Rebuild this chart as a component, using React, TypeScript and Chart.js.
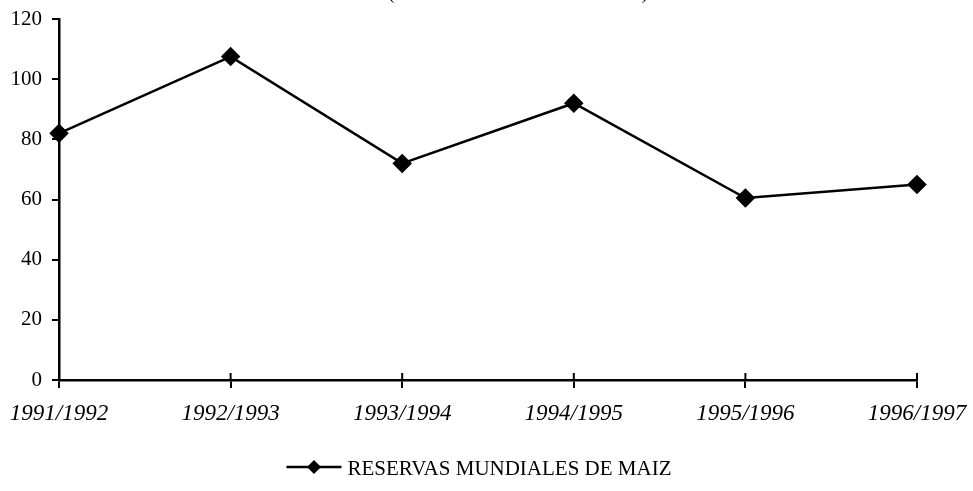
import React, { useEffect, useRef } from "react";
import { Chart, registerables } from "chart.js";

Chart.register(...registerables);

const categories = ["1991/1992", "1992/1993", "1993/1994", "1994/1995", "1995/1996", "1996/1997"];
const reservas = [82, 107.5, 72, 92, 60.5, 65];
const yMin = 0;
const yMax = 120;
const yStep = 20;
const seriesLabel = "RESERVAS MUNDIALES DE MAIZ";
const titleText = "(MILLONES DE TONELADAS)";

const SERIF = "'Liberation Serif', 'Times New Roman', serif";

export default function App() {
  const ref = useRef<HTMLCanvasElement>(null);

  useEffect(() => {
    if (!ref.current) return;

    const extras = {
      id: "extras",
      afterDraw(chart: any) {
        const ctx = chart.ctx as CanvasRenderingContext2D;
        const xs = chart.scales.x;
        const area = chart.chartArea;
        ctx.save();
        // upward part of x tick marks (they cross the axis)
        ctx.strokeStyle = "#000";
        ctx.lineWidth = 2;
        xs.ticks.forEach((_: any, i: number) => {
          const px = xs.getPixelForTick(i);
          ctx.beginPath();
          ctx.moveTo(px, area.bottom);
          ctx.lineTo(px, area.bottom - 7);
          ctx.stroke();
        });

        // title, mostly cut off at the top
        ctx.font = `20px ${SERIF}`;
        const w20 = ctx.measureText(titleText).width;
        const ts = (20 * 260) / w20;
        ctx.font = `${ts}px ${SERIF}`;
        ctx.fillStyle = "#000";
        ctx.textAlign = "center";
        ctx.textBaseline = "alphabetic";
        ctx.fillText(titleText, 518, -1.5);

        // legend
        const ds = chart.data.datasets[0];
        ctx.font = `21px ${SERIF}`;
        const tw = ctx.measureText(ds.label).width;
        const lineW = 55;
        const gap = 6;
        const total = lineW + gap + tw;
        const cx = 479;
        const ly = 467;
        const sx = cx - total / 2;
        ctx.lineWidth = 2.5;
        ctx.beginPath();
        ctx.moveTo(sx, ly);
        ctx.lineTo(sx + lineW, ly);
        ctx.stroke();
        const dx = sx + lineW / 2;
        const r = 7;
        ctx.beginPath();
        ctx.moveTo(dx, ly - r);
        ctx.lineTo(dx + r, ly);
        ctx.lineTo(dx, ly + r);
        ctx.lineTo(dx - r, ly);
        ctx.closePath();
        ctx.fill();
        ctx.textAlign = "left";
        ctx.textBaseline = "middle";
        ctx.fillText(ds.label, sx + lineW + gap, ly + 2);
        ctx.restore();
      },
    };

    const chart = new Chart(ref.current, {
      type: "line",
      data: {
        labels: categories,
        datasets: [
          {
            label: seriesLabel,
            data: reservas,
            borderColor: "#000",
            backgroundColor: "#000",
            borderWidth: 2.5,
            pointStyle: "rectRot",
            pointRadius: 8,
            pointHoverRadius: 8,
            pointBackgroundColor: "#000",
            pointBorderColor: "#000",
            tension: 0,
            fill: false,
          },
        ],
      },
      options: {
        responsive: false,
        animation: false,
        layout: { padding: { left: 0, right: 56, top: 19, bottom: 0 } },
        plugins: {
          legend: { display: false },
          tooltip: { enabled: false },
          title: { display: false },
        },
        scales: {
          x: {
            type: "category",
            offset: false,
            grid: {
              drawOnChartArea: false,
              drawTicks: true,
              tickLength: 8,
              color: "#000",
              lineWidth: 2,
            },
            border: { color: "#000", width: 2.5 },
            ticks: {
              color: "#000",
              font: { family: SERIF, size: 23, style: "italic" },
              padding: 12,
              maxRotation: 0,
              autoSkip: false,
            },
            afterFit: (s: any) => {
              s.height = 111;
              s.paddingLeft = 0;
              s.paddingRight = 0;
            },
          },
          y: {
            min: yMin,
            max: yMax,
            grid: {
              drawOnChartArea: false,
              drawTicks: true,
              tickLength: 7,
              color: "#000",
              lineWidth: 2,
            },
            border: { color: "#000", width: 2.5 },
            ticks: {
              stepSize: yStep,
              color: "#000",
              font: { family: SERIF, size: 21 },
              padding: 10,
            },
            afterFit: (s: any) => {
              s.width = 59;
              s.paddingTop = 0;
              s.paddingBottom = 0;
            },
          },
        },
      },
      plugins: [extras],
    });

    return () => chart.destroy();
  }, []);

  return (
    <canvas
      ref={ref}
      width={973}
      height={491}
      style={{ position: "absolute", left: 0, top: 0, display: "block", background: "#fff" }}
    />
  );
}
